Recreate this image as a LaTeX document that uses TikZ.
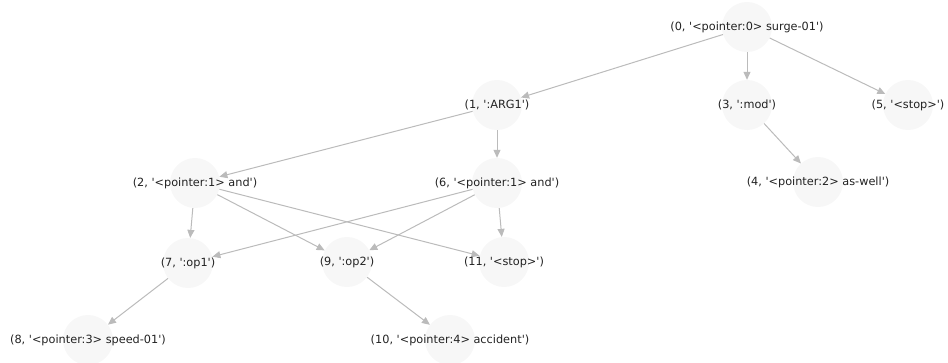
\documentclass[tikz,border=0pt]{standalone}
\usepackage{fontspec}
\setmainfont{DejaVu Sans}[Ligatures=TeXOff]
\usetikzlibrary{arrows.meta}
\definecolor{nodefill}{RGB}{247,247,247}
\definecolor{edgegray}{RGB}{187,187,187}
\definecolor{labelink}{RGB}{34,34,34}
\begin{document}
\begin{tikzpicture}[x=1pt, y=-1pt,
    vertex/.style={circle, fill=nodefill, minimum size=50pt, inner sep=0pt},
    tag/.style={text=labelink, font=\fontsize{11.3}{13}\selectfont, inner sep=0pt}]
    \useasboundingbox (0,0) rectangle (948,362);
    \begin{scope}[every node/.style={vertex}]
      \node (0) at (747,27) {};
      \node (1) at (497,105) {};
      \node (3) at (747,105) {};
      \node (5) at (908,105) {};
      \node (2) at (195,183) {};
      \node (6) at (497,183) {};
      \node (4) at (818,182) {};
      \node (7) at (188,263) {};
      \node (9) at (347,262) {};
      \node (11) at (504,262) {};
      \node (8) at (88,340) {};
      \node (10) at (450,340) {};
    \end{scope}
    \begin{scope}[-{Triangle[length=8pt, width=7pt]}, draw=edgegray, fill=edgegray, line width=1pt]
      \draw (0) to (1);
      \draw (0) to (3);
      \draw (0) to (5);
      \draw (3) to (4);
      \draw (1) to (2);
      \draw (1) to (6);
      \draw (2) to (7);
      \draw (2) to (9);
      \draw (2) to (11);
      \draw (6) to (7);
      \draw (6) to (9);
      \draw (6) to (11);
      \draw (7) to (8);
      \draw (9) to (10);
    \end{scope}
    \begin{scope}[every node/.style={tag}]
      \node at (0) {(0, '<pointer:0> surge-01')};
      \node at (1) {(1, ':ARG1')};
      \node at (3) {(3, ':mod')};
      \node at (5) {(5, '<stop>')};
      \node at (2) {(2, '<pointer:1> and')};
      \node at (6) {(6, '<pointer:1> and')};
      \node at (4) {(4, '<pointer:2> as-well')};
      \node at (7) {(7, ':op1')};
      \node at (9) {(9, ':op2')};
      \node at (11) {(11, '<stop>')};
      \node at (8) {(8, '<pointer:3> speed-01')};
      \node at (10) {(10, '<pointer:4> accident')};
    \end{scope}
\end{tikzpicture}
\end{document}
